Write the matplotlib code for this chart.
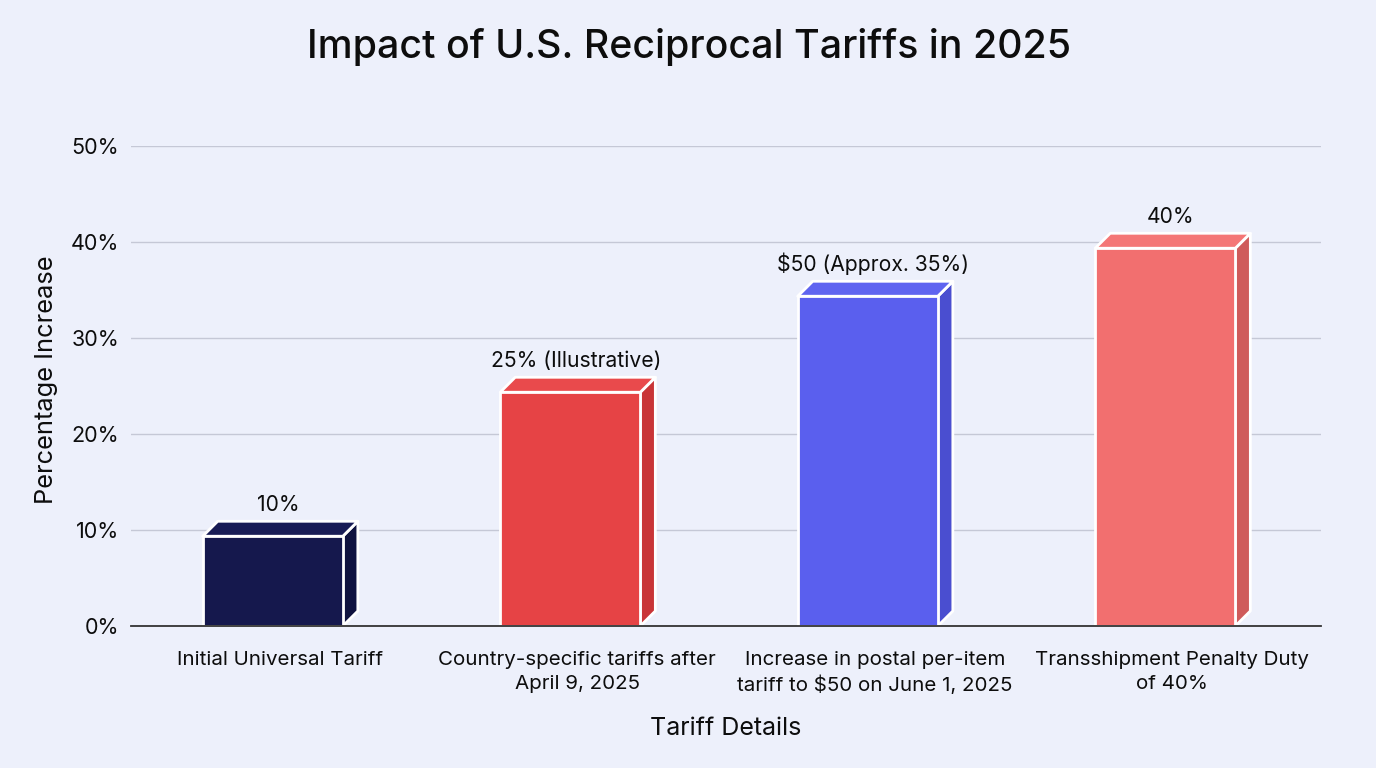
import matplotlib
matplotlib.use("Agg")
import matplotlib.pyplot as plt
from matplotlib.patches import Polygon

categories = ["Initial Universal Tariff",
              "Country-specific tariffs after\nApril 9, 2025",
              "Increase in postal per-item\ntariff to $50 on June 1, 2025",
              "Transshipment Penalty Duty\nof 40%"]
values = [10, 25, 35, 40]
value_labels = ["10%", "25% (Illustrative)", "$50 (Approx. 35%)", "40%"]
yticks = [0, 10, 20, 30, 40, 50]

front_colors = ["#15184d", "#e64345", "#5a5fee", "#f26f6f"]
top_colors = ["#181c55", "#e94a4c", "#5f64f0", "#f47676"]
side_colors = ["#10133f", "#c93537", "#4a4ed0", "#cf5b5b"]

plt.rcParams['font.family'] = ['Inter', 'DejaVu Sans']
BG = "#edf0fb"
TXT = "#0d0d0d"
fig = plt.figure(figsize=(13.76, 7.68), dpi=100, facecolor=BG)
ax = fig.add_axes([131/1376, 1-626/768, (1321-131)/1376, (626-146)/768])
ax.set_facecolor(BG)
ax.set_xlim(-0.5, 3.5)
ax.set_ylim(0, 50)

w = 0.471
dx = 0.0505
dy = 1.56
off = 0.65
for i, v in enumerate(values):
    x0 = i - 0.259
    h = v - off
    front = Polygon([(x0, 0), (x0 + w, 0), (x0 + w, h), (x0, h)], closed=True,
                    facecolor=front_colors[i], edgecolor="white", lw=2, zorder=3, joinstyle='round')
    top = Polygon([(x0, h), (x0 + w, h), (x0 + w + dx, h + dy), (x0 + dx, h + dy)], closed=True,
                  facecolor=top_colors[i], edgecolor="white", lw=2, zorder=3, joinstyle='round')
    side = Polygon([(x0 + w, 0), (x0 + w + dx, dy), (x0 + w + dx, h + dy), (x0 + w, h)], closed=True,
                   facecolor=side_colors[i], edgecolor="white", lw=2, zorder=3, joinstyle='round')
    for p in (side, top, front):
        ax.add_patch(p)
    ax.text(i - 0.005, h + dy + 0.65, value_labels[i].replace("$", r"\$"), ha="center", va="bottom",
            fontsize=15.2, color=TXT, zorder=4)

ax.set_yticks(yticks)
ax.set_yticklabels([f"{t}%" for t in yticks], fontsize=15.5, color=TXT)
ax.set_xticks(range(len(categories)))
ax.set_xticklabels([c.replace("$", r"\$") for c in categories], fontsize=14.8, color=TXT,
                   linespacing=1.4)
ax.tick_params(axis='both', length=0)
ax.tick_params(axis='y', pad=8.5)
ax.tick_params(axis='x', pad=18)

ax.grid(axis='y', color="#c5c8d6", lw=1, zorder=0)
ax.set_axisbelow(True)
for s in ["top", "right", "left"]:
    ax.spines[s].set_visible(False)
ax.spines["bottom"].set_color("#333333")
ax.spines["bottom"].set_linewidth(1.3)
ax.spines["bottom"].set_zorder(5)

ax.set_xlabel("Tariff Details", fontsize=18, color=TXT, labelpad=16)
ax.set_ylabel("Percentage Increase", fontsize=18.3, color=TXT)
ax.yaxis.set_label_coords(-0.061, 0.5 + 6/480)
fig.text(0.5007, 1-47/768, "Impact of U.S. Reciprocal Tariffs in 2025", ha="center", va="center",
         fontsize=28.3, color=TXT, fontweight="medium")

fig.savefig("out.png", dpi=100, facecolor=BG)
